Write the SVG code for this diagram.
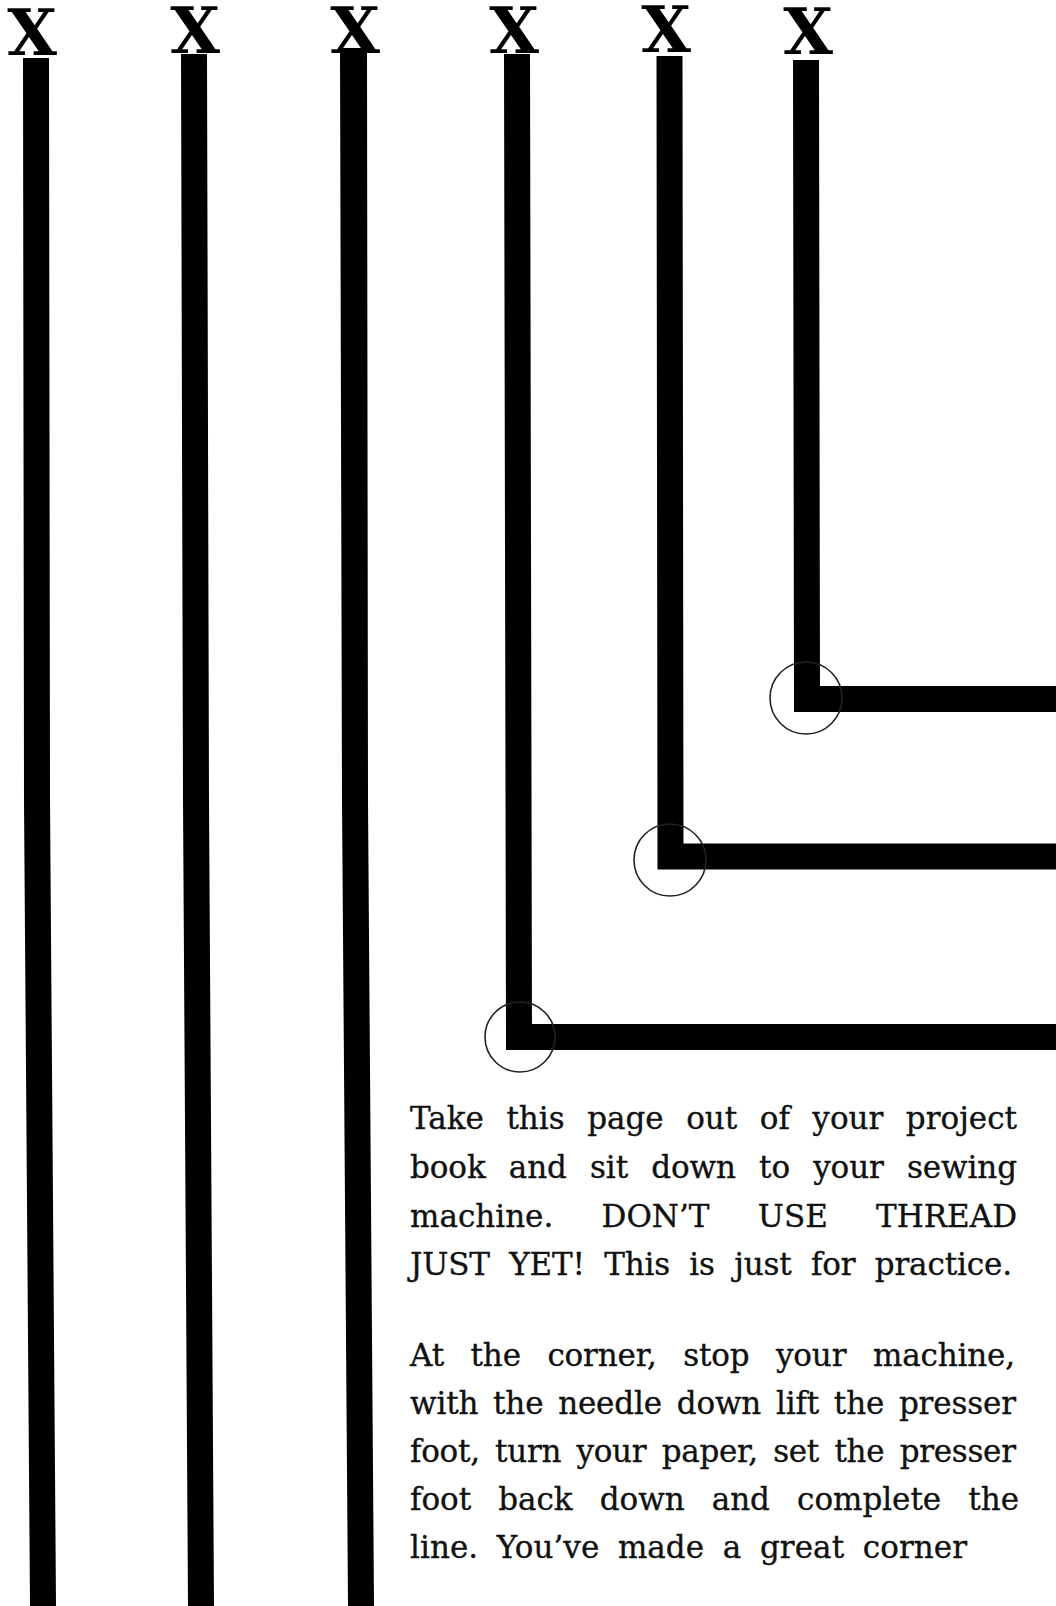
<svg xmlns="http://www.w3.org/2000/svg" width="1056" height="1606" viewBox="0 0 1056 1606">
  <style>
    .x { font-family: "DejaVu Serif", "Liberation Serif", serif; font-weight: bold; font-size: 64px; fill: #000; text-anchor: middle; }
    .bar { fill: none; stroke: #000; stroke-width: 26; stroke-linecap: butt; stroke-linejoin: miter; }
    .ring { fill: none; stroke: #222; stroke-width: 1.6; }
    .t { font-family: "DejaVu Serif", "Liberation Serif", serif; font-size: 31px; fill: #111; stroke: #111; stroke-width: 0.35; }
  </style>
  <rect width="1056" height="1606" fill="#fff"/>

  <g id="line1">
    <text class="x" x="32" y="55">X</text>
    <polygon points="23,58 49,58 50,800 56,1606 30,1606 24,800" fill="#000"/>
  </g>
  <g id="line2">
    <text class="x" x="195" y="53">X</text>
    <polygon points="181,54 207,54 209,800 214,1606 188,1606 183,800" fill="#000"/>
  </g>
  <g id="line3">
    <text class="x" x="355" y="53">X</text>
    <polygon points="340,48 367,48 368,800 374,1606 348,1606 342,800" fill="#000"/>
  </g>
  <g id="line4">
    <text class="x" x="514" y="53">X</text>
  </g>
  <g id="line5">
    <text class="x" x="666" y="52">X</text>
  </g>
  <g id="line6">
    <text class="x" x="808" y="54">X</text>
  </g>

  <g id="connectors">
    <path class="bar" d="M517,54 L519,1037 L1060,1037"/>
    <path class="bar" d="M669.5,56 L670.5,856.5 L1060,856.5"/>
    <path class="bar" d="M806,60 L807,699 L1060,699"/>
  </g>

  <g id="corners">
    <circle class="ring" cx="520" cy="1037" r="35"/>
    <circle class="ring" cx="670" cy="860" r="36"/>
    <circle class="ring" cx="806" cy="698" r="36"/>
  </g>

  <g id="instructions1">
    <text class="t" x="410" y="1129" word-spacing="12.6" textLength="607" lengthAdjust="spacing">Take this page out of your project</text>
    <text class="t" x="410" y="1178" word-spacing="13.4" textLength="607" lengthAdjust="spacing">book and sit down to your sewing</text>
    <text class="t" x="410" y="1227" word-spacing="38.4" textLength="607" lengthAdjust="spacing">machine. DON’T USE THREAD</text>
    <text class="t" x="410" y="1275" word-spacing="9.6" textLength="602" lengthAdjust="spacing">JUST YET! This is just for practice.</text>
  </g>

  <g id="instructions2">
    <text class="t" x="410" y="1366" word-spacing="16.9" textLength="605" lengthAdjust="spacing">At the corner, stop your machine,</text>
    <text class="t" x="410" y="1414" word-spacing="5.1" textLength="606" lengthAdjust="spacing">with the needle down lift the presser</text>
    <text class="t" x="410" y="1462" word-spacing="5.8" textLength="606" lengthAdjust="spacing">foot, turn your paper, set the presser</text>
    <text class="t" x="410" y="1510" word-spacing="17.3" textLength="609" lengthAdjust="spacing">foot back down and complete the</text>
    <text class="t" x="410" y="1558" word-spacing="8.7" textLength="557" lengthAdjust="spacing">line. You’ve made a great corner</text>
  </g>
</svg>
